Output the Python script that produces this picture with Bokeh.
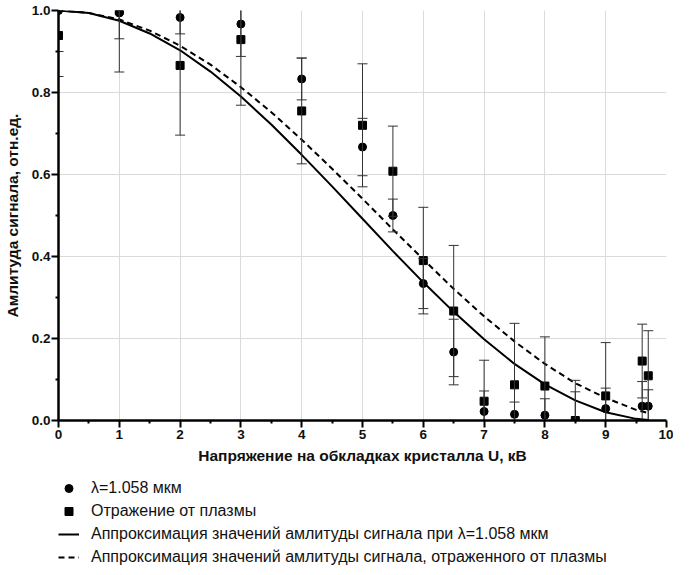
from bokeh.plotting import figure
from bokeh.layouts import column
from bokeh.models import (Range1d, FixedTicker, Legend, LegendItem, ColumnDataSource,
                          Whisker, TeeHead)
from bokeh.embed import file_html
from bokeh.resources import INLINE

# ---- data ----
U = [0, 1, 2, 3, 4, 5, 5.5, 6, 6.5, 7, 7.5, 8, 8.5, 9, 9.6, 9.7]
amp_1058 = [1.0, 0.994, 0.983, 0.967, 0.833, 0.667, 0.500, 0.334, 0.167, 0.022,
            0.015, 0.013, 0.0, 0.029, 0.035, 0.035]
err_1058 = [0.10, 0.063, 0.04, 0.079, 0.051, 0.07, 0.04, 0.061, 0.08, 0.05,
            0.03, 0.04, 0.07, 0.05, 0.06, 0.04]
amp_plasma = [0.939, 1.0, 0.866, 0.929, 0.755, 0.720, 0.608, 0.390, 0.267, 0.047,
              0.087, 0.084, 0.0, 0.060, 0.145, 0.109]
err_plasma = [0.10, 0.15, 0.17, 0.16, 0.129, 0.15, 0.11, 0.13, 0.16, 0.10,
              0.15, 0.12, 0.098, 0.13, 0.09, 0.11]

fit_U = [0, 0.5, 1, 1.5, 2, 2.5, 3, 3.5, 4, 4.5, 5, 5.5, 6, 6.5, 7, 7.5, 8, 8.5, 9, 9.5, 9.7]
fit_1058 = [1.0, 0.994, 0.975, 0.944, 0.903, 0.851, 0.790, 0.722, 0.648, 0.571, 0.492,
            0.413, 0.337, 0.265, 0.198, 0.138, 0.088, 0.049, 0.020, 0.004, 0.001]
fit_plasma = [1.0, 0.994, 0.978, 0.951, 0.914, 0.868, 0.813, 0.752, 0.685, 0.614, 0.541,
              0.466, 0.393, 0.321, 0.254, 0.193, 0.138, 0.091, 0.055, 0.026, 0.018]

x_ticks = [0, 1, 2, 3, 4, 5, 6, 7, 8, 9, 10]
x_minor = [0.5, 1.5, 2.5, 3.5, 4.5, 5.5, 6.5, 7.5, 8.5, 9.5]
y_ticks = [0.0, 0.2, 0.4, 0.6, 0.8, 1.0]
y_tick_labels = ["0.0", "0.2", "0.4", "0.6", "0.8", "1.0"]
y_minor = [0.1, 0.3, 0.5, 0.7, 0.9]

x_title = "Напряжение на обкладках кристалла U, кВ"
y_title = "Амлитуда сигнала, отн.ед."
legend_labels = ["λ=1.058 мкм",
                 "Отражение от плазмы",
                 "Аппроксимация значений амлитуды сигнала при λ=1.058 мкм",
                 "Аппроксимация значений амлитуды сигнала, отраженного от плазмы"]

FONT = "Liberation Sans"
EB = "#333333"

p = figure(width=673, height=470, x_range=Range1d(0, 10), y_range=Range1d(0, 1),
           output_backend="svg", toolbar_location=None,
           min_border_left=53, min_border_right=7, min_border_top=10, min_border_bottom=50)
p.outline_line_color = None
p.background_fill_color = "white"
p.border_fill_color = "white"

# axes
p.xaxis.ticker = FixedTicker(ticks=x_ticks, minor_ticks=x_minor)
p.yaxis.ticker = FixedTicker(ticks=y_ticks, minor_ticks=y_minor)
p.yaxis.major_label_overrides = {t: l for t, l in zip(y_ticks, y_tick_labels)}
for ax in (p.xaxis[0], p.yaxis[0]):
    ax.axis_line_width = 2.5
    ax.axis_line_color = "black"
    ax.major_tick_line_width = 2
    ax.major_tick_line_color = "black"
    ax.minor_tick_line_width = 2
    ax.minor_tick_line_color = "black"
    ax.major_tick_in = 0
    ax.major_tick_out = 7
    ax.minor_tick_in = 0
    ax.minor_tick_out = 3
    ax.major_label_text_font = FONT
    ax.major_label_text_font_style = "bold"
    ax.major_label_text_font_size = "13.5px"
    ax.major_label_text_color = "#111111"
    ax.axis_label_text_font = FONT
    ax.axis_label_text_font_style = "bold"
    ax.axis_label_text_font_size = "15.5px"
    ax.axis_label_text_color = "#111111"
p.xaxis.axis_label = x_title
p.yaxis.axis_label = y_title
p.xaxis.major_label_standoff = 2
p.xaxis.axis_label_standoff = 5
p.yaxis.major_label_standoff = 1
p.yaxis.axis_label_standoff = 8

p.xgrid.grid_line_color = "#dadada"
p.ygrid.grid_line_color = "#dadada"
p.xgrid.grid_line_width = 1
p.ygrid.grid_line_width = 1

# error bars
src_a = ColumnDataSource(dict(x=U, y=amp_1058,
                              upper=[v + e for v, e in zip(amp_1058, err_1058)],
                              lower=[v - e for v, e in zip(amp_1058, err_1058)]))
src_b = ColumnDataSource(dict(x=U, y=amp_plasma,
                              upper=[v + e for v, e in zip(amp_plasma, err_plasma)],
                              lower=[v - e for v, e in zip(amp_plasma, err_plasma)]))
src_fit = ColumnDataSource(dict(x=fit_U, y1=fit_1058, y2=fit_plasma))
for src in (src_b, src_a):
    w = Whisker(source=src, base="x", upper="upper", lower="lower",
                line_color=EB, line_width=1, level="glyph",
                upper_head=TeeHead(size=10, line_color=EB, line_width=1),
                lower_head=TeeHead(size=10, line_color=EB, line_width=1))
    p.add_layout(w)

# fitted curves
p.line("x", "y1", source=src_fit, line_color="black", line_width=2)
p.line("x", "y2", source=src_fit, line_color="black", line_width=2, line_dash="6 4")

# markers
p.scatter("x", "y", source=src_b, marker="square", size=8,
          fill_color="black", line_color="black")
p.scatter("x", "y", source=src_a, marker="circle", size=8,
          fill_color="black", line_color="black")

# ---- legend panel: a second, axis-less figure under the chart; its renderers
# ---- share the chart's data but its ranges keep them out of view
lg = figure(width=673, height=97, x_range=Range1d(-20, -19), y_range=Range1d(-20, -19),
            output_backend="svg", toolbar_location=None,
            x_axis_type=None, y_axis_type=None,
            min_border_left=49, min_border_top=8, min_border_right=0, min_border_bottom=0)
lg.outline_line_color = None
lg.xgrid.visible = False
lg.ygrid.visible = False
g_ci = lg.scatter("x", "y", source=src_a, marker="circle", size=8,
                  fill_color="black", line_color="black")
g_sq = lg.scatter("x", "y", source=src_b, marker="square", size=8,
                  fill_color="black", line_color="black")
g_l1 = lg.line("x", "y1", source=src_fit, line_color="black", line_width=2)
g_l2 = lg.line("x", "y2", source=src_fit, line_color="black", line_width=2, line_dash="6 4")

legend = Legend(items=[LegendItem(label=legend_labels[0], renderers=[g_ci]),
                       LegendItem(label=legend_labels[1], renderers=[g_sq]),
                       LegendItem(label=legend_labels[2], renderers=[g_l1]),
                       LegendItem(label=legend_labels[3], renderers=[g_l2])],
                location="top_left",
                label_text_font=FONT, label_text_font_size="16px",
                label_text_color="#111111",
                glyph_width=21, glyph_height=20, label_height=20,
                label_standoff=12, spacing=3, padding=0, margin=0,
                border_line_color=None, background_fill_alpha=0)
lg.add_layout(legend)

layout = column(p, lg, spacing=0)
open("out.html", "w").write(file_html(layout, INLINE))
